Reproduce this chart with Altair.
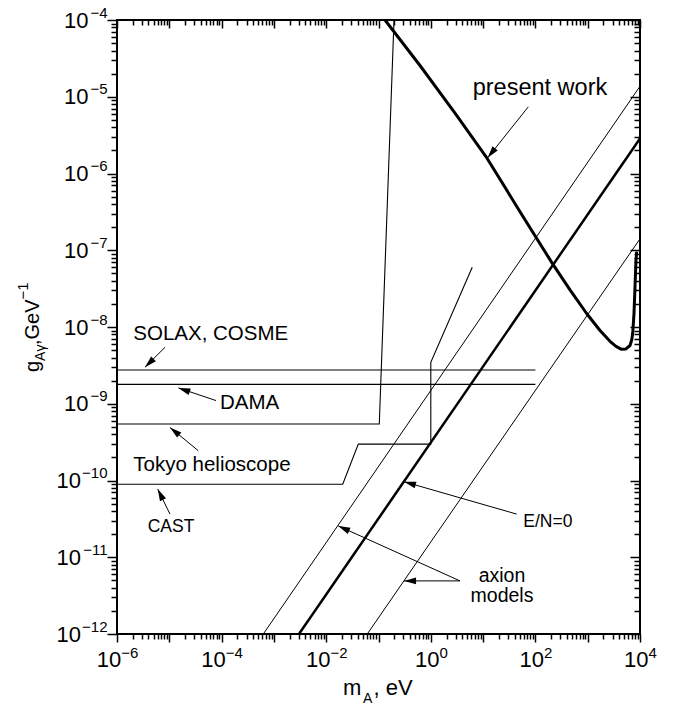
import math
import altair as alt
import pandas as pd

# ---------------- data (m_A in eV, g_Agamma in GeV^-1) ----------------
tokyo_m = [1e-6, 0.1035, 0.198]
tokyo_g = [5.45e-10, 5.45e-10, 1e-4]

cast_m = [1e-6, 0.0207, 0.0411, 1.0, 1.0, 6.2]
cast_g = [8.95e-11, 8.95e-11, 2.98e-10, 2.98e-10, 3.46e-9, 6.0e-8]

solax_m = [1e-6, 100.0]
solax_g = [2.75e-9, 2.75e-9]

dama_m = [1e-6, 100.0]
dama_g = [1.79e-9, 1.79e-9]

axion_hi_m = [6.27e-4, 1e4]
axion_hi_g = [1e-12, 1.37e-5]

axion_lo_m = [0.061, 1e4]
axion_lo_g = [1e-12, 1.41e-7]

en0_m = [3.02e-3, 1e4]
en0_g = [1e-12, 2.86e-6]

present_m = [0.1331, 0.6215, 2.902, 11.88, 50.76, 207.7, 458.7, 969.6, 1719, 2669, 3476, 4429,
             5398, 6439, 6940, 7253, 7680, 8024, 8384, 8648]
present_g = [1e-4, 2.554e-5, 6.124e-6, 1.583e-6, 3.179e-7, 6.843e-8, 3.043e-8, 1.477e-8, 9.0e-9,
             6.51e-9, 5.59e-9, 5.12e-9, 5.17e-9, 5.74e-9, 6.77e-9, 8.28e-9, 1.508e-8, 3.35e-8,
             7.46e-8, 9.57e-8]

# annotation texts (left edge, baseline)
ann_text = ["present work", "SOLAX, COSME", "DAMA", "Tokyo helioscope", "CAST", "E/N=0"]
ann_m = [6.32, 2.05e-6, 9.3e-5, 2.05e-6, 3.86e-6, 58.8]
ann_g = [1.05e-5, 6.67e-9, 8.55e-10, 1.34e-10, 2.14e-11, 2.49e-11]
ann_fs = [23.5, 20.5, 20.5, 20.5, 17.5, 17.5]

# centred two-line annotation
axion_text = ["axion\nmodels"]
axion_m = [22.98]
axion_g = [4.72e-12]

# arrows: tail (m, g) -> tip (m, g)
arr_m0 = [73.1, 8.28e-6, 7.82e-5, 3.59e-5, 1.03e-5, 43.9, 3.61, 3.61]
arr_g0 = [7.39e-6, 5.44e-9, 1.10e-9, 2.44e-10, 3.65e-11, 3.65e-11, 4.92e-12, 4.92e-12]
arr_m1 = [12.2, 3.43e-6, 1.49e-5, 1.03e-5, 6.0e-6, 0.308, 0.0170, 0.308]
arr_g1 = [1.60e-6, 2.99e-9, 1.61e-9, 4.92e-10, 7.73e-11, 9.64e-11, 2.56e-11, 4.92e-12]

# axis ticks
x_decades = [10.0 ** e for e in range(-6, 5)]
x_minor = [k * 10.0 ** e for e in range(-6, 4) for k in range(2, 10)]
x_labelled = [10.0 ** e for e in range(-6, 5, 2)]
y_decades = [10.0 ** e for e in range(-12, -3)]
y_minor = [k * 10.0 ** e for e in range(-12, -4) for k in range(2, 10)]

# ---------------- layout ----------------
W, H = 523, 614
PXX, PXY = W / 10.0, H / 8.0
FONT = "Liberation Sans"

XS = alt.Scale(type="log", domain=[1e-6, 1e4], nice=False)
YS = alt.Scale(type="log", domain=[1e-12, 1e-4], nice=False)

LG = "(log(datum.value)/LN10)"
EXPN = f"round({LG})"
IS_MAJOR = f"abs({LG} - {EXPN}) < 1e-6"
EXP_TXT = f"replace('' + {EXPN}, '-', '\u2212')"

common = dict(grid=False, domain=False, title=None, tickColor="black", tickWidth=1.5,
              labelColor="black", labelFont=FONT, labelFlush=False, labelOverlap=False,
              labelBound=False)

X_OFF = {"condition": {"test": "datum.value < 0.5", "value": 3.7}, "value": 8.1}

ax_x_main = alt.Axis(orient="bottom", values=x_decades + x_minor,
                     tickSize={"condition": {"test": IS_MAJOR, "value": 8}, "value": 5},
                     labelExpr=f"({IS_MAJOR}) && ({EXPN} % 2 == 0) ? '10' : ''",
                     labelFontSize=22, labelAlign="right", labelBaseline="top", labelPadding=7.6,
                     labelOffset=X_OFF, **common)
ax_x_exp = alt.Axis(orient="bottom", values=x_labelled, ticks=False, tickSize=0,
                    labelExpr=EXP_TXT, labelFontSize=15, labelAlign="left", labelBaseline="top",
                    labelPadding=11.1, labelOffset=X_OFF, **common)
ax_y_main = alt.Axis(orient="left", values=y_decades + y_minor,
                     tickSize={"condition": {"test": IS_MAJOR, "value": 10}, "value": 6},
                     labelExpr=f"({IS_MAJOR}) ? '10' : ''",
                     labelFontSize=22, labelAlign="right", labelBaseline="middle",
                     labelPadding={"condition": {"test": "datum.value < 3e-10", "value": 26.5}, "value": 19},
                     **common)
ax_y_exp = alt.Axis(orient="left", values=y_decades, ticks=False, tickSize=0,
                    labelExpr=EXP_TXT, labelFontSize=15, labelAlign="right", labelBaseline="middle",
                    labelPadding=10, labelOffset=-8, **common)
ax_x_top_major = alt.Axis(orient="top", values=x_decades, tickSize=8, offset=-8, labels=False, **common)
ax_x_top_minor = alt.Axis(orient="top", values=x_minor, tickSize=5, offset=-5, labels=False, **common)
ax_y_right_major = alt.Axis(orient="right", values=y_decades, tickSize=10, offset=-10, labels=False, **common)
ax_y_right_minor = alt.Axis(orient="right", values=y_minor, tickSize=6, offset=-6, labels=False, **common)

# ---------------- tables ----------------
def series(name, ms, gs, width):
    return [{"series": name, "o": i, "m": m, "g": g, "w": width} for i, (m, g) in enumerate(zip(ms, gs))]

thin_rows = (series("tokyo", tokyo_m, tokyo_g, 1.1) + series("cast", cast_m, cast_g, 1.1)
             + series("solax", solax_m, solax_g, 1.1) + series("dama", dama_m, dama_g, 1.1)
             + series("axion_hi", axion_hi_m, axion_hi_g, 1.0) + series("axion_lo", axion_lo_m, axion_lo_g, 1.0))
thick_rows = series("present", present_m, present_g, 3.0) + series("en0", en0_m, en0_g, 2.5)
df_thin = pd.DataFrame(thin_rows)
df_thick = pd.DataFrame(thick_rows)

arr_rows = []
for m0, g0, m1, g1 in zip(arr_m0, arr_g0, arr_m1, arr_g1):
    dx = (math.log10(m1) - math.log10(m0)) * PXX
    dy = -(math.log10(g1) - math.log10(g0)) * PXY
    ang = math.degrees(math.atan2(dx, -dy)) % 360
    arr_rows.append({"m0": m0, "g0": g0, "m1": m1, "g1": g1, "ang": ang})
df_arr = pd.DataFrame(arr_rows)
df_ann = pd.DataFrame({"t": ann_text, "m": ann_m, "g": ann_g, "fs": ann_fs})
df_axion = pd.DataFrame({"t": axion_text, "m": axion_m, "g": axion_g})

# ---------------- layers ----------------
thin = alt.Chart(df_thin).mark_line(color="black", clip=True).encode(
    x=alt.X("m:Q", scale=XS, axis=ax_x_main),
    y=alt.Y("g:Q", scale=YS, axis=ax_y_main),
    detail="series:N", order="o:Q",
    strokeWidth=alt.StrokeWidth("w:Q", scale=None, legend=None),
)
thick = alt.Chart(df_thick).mark_line(color="black", clip=True, strokeJoin="round").encode(
    x=alt.X("m:Q", scale=XS, axis=ax_x_exp),
    y=alt.Y("g:Q", scale=YS, axis=ax_y_exp),
    detail="series:N", order="o:Q",
    strokeWidth=alt.StrokeWidth("w:Q", scale=None, legend=None),
)
rules = alt.Chart(df_arr).mark_rule(color="black", strokeWidth=1).encode(
    x=alt.X("m0:Q", scale=XS, axis=ax_x_top_major),
    y=alt.Y("g0:Q", scale=YS, axis=ax_y_right_major),
    x2="m1:Q", y2="g1:Q",
)
heads = alt.Chart(df_arr).mark_point(
    shape="M0,0L-0.28,1L0.28,1Z", filled=True, color="black", opacity=1, size=576, strokeWidth=0
).encode(
    x=alt.X("m1:Q", scale=XS, axis=ax_x_top_minor),
    y=alt.Y("g1:Q", scale=YS, axis=ax_y_right_minor),
    angle=alt.Angle("ang:Q", scale=None),
)
texts = alt.Chart(df_ann).mark_text(align="left", baseline="alphabetic", font=FONT, color="black").encode(
    x=alt.X("m:Q", scale=XS, axis=None),
    y=alt.Y("g:Q", scale=YS, axis=None),
    text="t:N",
    size=alt.Size("fs:Q", scale=None, legend=None),
)
axion_lbl = alt.Chart(df_axion).mark_text(
    align="center", baseline="alphabetic", font=FONT, color="black", fontSize=19.5,
    lineBreak="\n", lineHeight=20
).encode(
    x=alt.X("m:Q", scale=XS, axis=None),
    y=alt.Y("g:Q", scale=YS, axis=None),
    text="t:N",
)

# axis titles with sub/superscripts (pixel placement relative to plot area)
xt = pd.DataFrame({"t": ["m", "A", ", eV"], "px": [226, 246, 256.5], "py": [675, 683, 675],
                   "fs": [22, 14, 22]})
yt = pd.DataFrame({"t": ["g", "A\u03b3", ",GeV", "\u22121"], "px": [-78, -72, -78, -89],
                   "py": [352, 340.9, 325.1, 279.5], "fs": [20, 14, 20, 15]})
xtitle = alt.Chart(xt).mark_text(align="left", baseline="alphabetic", font=FONT, color="black").encode(
    x=alt.X("px:Q", scale=None, axis=None), y=alt.Y("py:Q", scale=None, axis=None),
    text="t:N", size=alt.Size("fs:Q", scale=None, legend=None))
ytitle = alt.Chart(yt).mark_text(align="left", baseline="alphabetic", font=FONT, color="black",
                                 angle=270).encode(
    x=alt.X("px:Q", scale=None, axis=None), y=alt.Y("py:Q", scale=None, axis=None),
    text="t:N", size=alt.Size("fs:Q", scale=None, legend=None))

chart = alt.layer(thin, thick, rules, heads, texts, axion_lbl, xtitle, ytitle).resolve_axis(
    x="independent", y="independent"
).properties(
    width=W, height=H,
    autosize=alt.AutoSizeParams(type="none"),
    padding={"left": 117, "top": 20, "right": 38, "bottom": 76},
).configure_view(stroke="black", strokeWidth=2)

chart.save("out.html", embed_options={"renderer": "svg", "actions": False})
